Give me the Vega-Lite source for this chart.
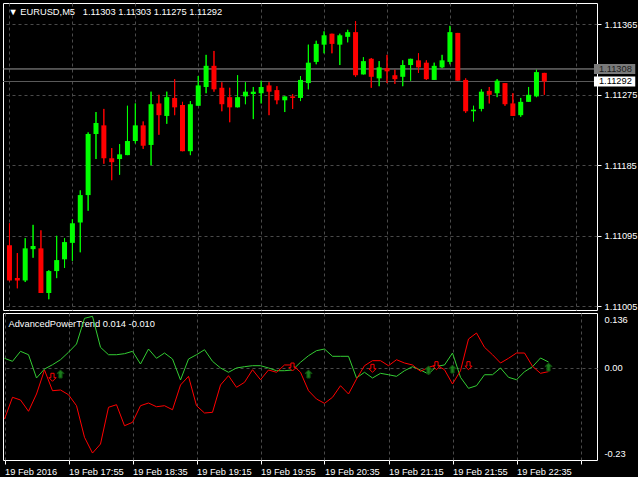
{
 "$schema": "https://vega.github.io/schema/vega-lite/v6.json",
 "background": "#000000",
 "padding": {"left": 2, "top": 2, "right": 0, "bottom": 0},
 "bounds": "flush",
 "spacing": 3,
 "config": {
  "view": {"stroke": "#ffffff", "strokeWidth": 1},
  "font": "Liberation Sans",
  "axis": {"labelColor": "#ffffff", "labelFont": "Liberation Sans", "labelFontSize": 9.3, "gridColor": "#4a4a4a", "gridDash": [3, 3], "gridWidth": 1, "tickColor": "#ffffff", "domain": false,
   "titleColor": "#ffffff", "titleFont": "Liberation Sans", "titleFontSize": 9.3, "titleFontWeight": "normal", "titleAngle": 0, "titleAlign": "left", "titleBaseline": "alphabetic"}
 },
 "datasets": {
  "bars": [
   {"t": "2016-02-19 17:15", "o": 1.11083, "h": 1.11111, "l": 1.11037, "c": 1.11038, "g": 0.0232, "r": -0.1280},
   {"t": "2016-02-19 17:20", "o": 1.11041, "h": 1.11073, "l": 1.11028, "c": 1.11038, "g": 0.0157, "r": -0.0739},
   {"t": "2016-02-19 17:25", "o": 1.11038, "h": 1.11092, "l": 1.11036, "c": 1.11079, "g": 0.0406, "r": -0.0806},
   {"t": "2016-02-19 17:30", "o": 1.11078, "h": 1.11109, "l": 1.11067, "c": 1.11082, "g": 0.0321, "r": -0.1087},
   {"t": "2016-02-19 17:35", "o": 1.11079, "h": 1.11102, "l": 1.11022, "c": 1.11022, "g": -0.0258, "r": -0.0657},
   {"t": "2016-02-19 17:40", "o": 1.11022, "h": 1.11051, "l": 1.11014, "c": 1.11050, "g": -0.0035, "r": -0.0059},
   {"t": "2016-02-19 17:45", "o": 1.11050, "h": 1.11095, "l": 1.11041, "c": 1.11064, "g": 0.0072, "r": -0.0575},
   {"t": "2016-02-19 17:50", "o": 1.11065, "h": 1.11092, "l": 1.11054, "c": 1.11087, "g": 0.0197, "r": -0.0557},
   {"t": "2016-02-19 17:55", "o": 1.11086, "h": 1.11116, "l": 1.11063, "c": 1.11111, "g": 0.0382, "r": -0.0675},
   {"t": "2016-02-19 18:00", "o": 1.11112, "h": 1.11153, "l": 1.11074, "c": 1.11147, "g": 0.0588, "r": -0.0948},
   {"t": "2016-02-19 18:05", "o": 1.11147, "h": 1.11227, "l": 1.11127, "c": 1.11225, "g": 0.1228, "r": -0.1735},
   {"t": "2016-02-19 18:10", "o": 1.11225, "h": 1.11253, "l": 1.11193, "c": 1.11239, "g": 0.1277, "r": -0.2127},
   {"t": "2016-02-19 18:15", "o": 1.11236, "h": 1.11257, "l": 1.11187, "c": 1.11194, "g": 0.0506, "r": -0.1902},
   {"t": "2016-02-19 18:20", "o": 1.11194, "h": 1.11207, "l": 1.11166, "c": 1.11189, "g": 0.0321, "r": -0.0988},
   {"t": "2016-02-19 18:25", "o": 1.11193, "h": 1.11212, "l": 1.11173, "c": 1.11199, "g": 0.0321, "r": -0.0923},
   {"t": "2016-02-19 18:30", "o": 1.11198, "h": 1.11261, "l": 1.11198, "c": 1.11216, "g": 0.0347, "r": -0.1447},
   {"t": "2016-02-19 18:35", "o": 1.11216, "h": 1.11264, "l": 1.11213, "c": 1.11236, "g": 0.0406, "r": -0.1362},
   {"t": "2016-02-19 18:40", "o": 1.11236, "h": 1.11241, "l": 1.11206, "c": 1.11210, "g": 0.0090, "r": -0.0948},
   {"t": "2016-02-19 18:45", "o": 1.11211, "h": 1.11279, "l": 1.11185, "c": 1.11263, "g": 0.0463, "r": -0.0881},
   {"t": "2016-02-19 18:50", "o": 1.11264, "h": 1.11275, "l": 1.11224, "c": 1.11249, "g": 0.0232, "r": -0.0974},
   {"t": "2016-02-19 18:55", "o": 1.11248, "h": 1.11279, "l": 1.11238, "c": 1.11272, "g": 0.0364, "r": -0.0948},
   {"t": "2016-02-19 19:00", "o": 1.11271, "h": 1.11295, "l": 1.11249, "c": 1.11259, "g": 0.0214, "r": -0.1049},
   {"t": "2016-02-19 19:05", "o": 1.11262, "h": 1.11266, "l": 1.11203, "c": 1.11203, "g": -0.0308, "r": -0.0433},
   {"t": "2016-02-19 19:10", "o": 1.11203, "h": 1.11267, "l": 1.11198, "c": 1.11263, "g": 0.0214, "r": -0.0217},
   {"t": "2016-02-19 19:15", "o": 1.11261, "h": 1.11299, "l": 1.11261, "c": 1.11287, "g": 0.0321, "r": -0.0948},
   {"t": "2016-02-19 19:20", "o": 1.11285, "h": 1.11326, "l": 1.11277, "c": 1.11312, "g": 0.0446, "r": -0.1130},
   {"t": "2016-02-19 19:25", "o": 1.11312, "h": 1.11331, "l": 1.11279, "c": 1.11282, "g": 0.0157, "r": -0.1113},
   {"t": "2016-02-19 19:30", "o": 1.11284, "h": 1.11291, "l": 1.11254, "c": 1.11263, "g": -0.0009, "r": -0.0433},
   {"t": "2016-02-19 19:35", "o": 1.11272, "h": 1.11284, "l": 1.11240, "c": 1.11259, "g": -0.0116, "r": -0.0201},
   {"t": "2016-02-19 19:40", "o": 1.11259, "h": 1.11300, "l": 1.11259, "c": 1.11272, "g": -0.0009, "r": -0.0490},
   {"t": "2016-02-19 19:45", "o": 1.11273, "h": 1.11291, "l": 1.11263, "c": 1.11279, "g": 0.0023, "r": -0.0366},
   {"t": "2016-02-19 19:50", "o": 1.11276, "h": 1.11285, "l": 1.11244, "c": 1.11279, "g": 0.0048, "r": -0.0052},
   {"t": "2016-02-19 19:55", "o": 1.11277, "h": 1.11293, "l": 1.11264, "c": 1.11285, "g": 0.0048, "r": -0.0301},
   {"t": "2016-02-19 20:00", "o": 1.11287, "h": 1.11291, "l": 1.11249, "c": 1.11279, "g": -0.0009, "r": -0.0059},
   {"t": "2016-02-19 20:05", "o": 1.11281, "h": 1.11286, "l": 1.11263, "c": 1.11268, "g": -0.0077, "r": -0.0116},
   {"t": "2016-02-19 20:10", "o": 1.11268, "h": 1.11273, "l": 1.11253, "c": 1.11273, "g": -0.0077, "r": 0.0066},
   {"t": "2016-02-19 20:15", "o": 1.11273, "h": 1.11276, "l": 1.11257, "c": 1.11271, "g": -0.0059, "r": 0.0066},
   {"t": "2016-02-19 20:20", "o": 1.11271, "h": 1.11299, "l": 1.11267, "c": 1.11294, "g": 0.0133, "r": -0.0116},
   {"t": "2016-02-19 20:25", "o": 1.11290, "h": 1.11339, "l": 1.11282, "c": 1.11316, "g": 0.0297, "r": -0.0575},
   {"t": "2016-02-19 20:30", "o": 1.11317, "h": 1.11344, "l": 1.11314, "c": 1.11340, "g": 0.0422, "r": -0.0782},
   {"t": "2016-02-19 20:35", "o": 1.11339, "h": 1.11356, "l": 1.11328, "c": 1.11351, "g": 0.0463, "r": -0.0889},
   {"t": "2016-02-19 20:40", "o": 1.11353, "h": 1.11353, "l": 1.11328, "c": 1.11340, "g": 0.0282, "r": -0.0739},
   {"t": "2016-02-19 20:45", "o": 1.11339, "h": 1.11353, "l": 1.11313, "c": 1.11351, "g": 0.0282, "r": -0.0450},
   {"t": "2016-02-19 20:50", "o": 1.11349, "h": 1.11358, "l": 1.11342, "c": 1.11355, "g": 0.0282, "r": -0.0657},
   {"t": "2016-02-19 20:55", "o": 1.11355, "h": 1.11369, "l": 1.11298, "c": 1.11300, "g": -0.0258, "r": -0.0284},
   {"t": "2016-02-19 21:00", "o": 1.11301, "h": 1.11323, "l": 1.11301, "c": 1.11318, "g": -0.0116, "r": 0.0048},
   {"t": "2016-02-19 21:05", "o": 1.11321, "h": 1.11322, "l": 1.11284, "c": 1.11298, "g": -0.0258, "r": 0.0173},
   {"t": "2016-02-19 21:10", "o": 1.11296, "h": 1.11318, "l": 1.11286, "c": 1.11310, "g": -0.0142, "r": 0.0173},
   {"t": "2016-02-19 21:15", "o": 1.11309, "h": 1.11326, "l": 1.11290, "c": 1.11305, "g": -0.0177, "r": 0.0048},
   {"t": "2016-02-19 21:20", "o": 1.11300, "h": 1.11307, "l": 1.11289, "c": 1.11295, "g": -0.0217, "r": 0.0197},
   {"t": "2016-02-19 21:25", "o": 1.11298, "h": 1.11319, "l": 1.11286, "c": 1.11313, "g": -0.0077, "r": 0.0115},
   {"t": "2016-02-19 21:30", "o": 1.11313, "h": 1.11321, "l": 1.11293, "c": 1.11321, "g": 0.0023, "r": 0.0066},
   {"t": "2016-02-19 21:35", "o": 1.11319, "h": 1.11328, "l": 1.11303, "c": 1.11310, "g": -0.0059, "r": -0.0092},
   {"t": "2016-02-19 21:40", "o": 1.11316, "h": 1.11319, "l": 1.11294, "c": 1.11295, "g": -0.0159, "r": 0.0008},
   {"t": "2016-02-19 21:45", "o": 1.11294, "h": 1.11316, "l": 1.11294, "c": 1.11312, "g": 0.0032, "r": 0.0066},
   {"t": "2016-02-19 21:50", "o": 1.11310, "h": 1.11326, "l": 1.11309, "c": 1.11319, "g": 0.0066, "r": -0.0052},
   {"t": "2016-02-19 21:55", "o": 1.11317, "h": 1.11363, "l": 1.11314, "c": 1.11355, "g": 0.0364, "r": -0.0408},
   {"t": "2016-02-19 22:00", "o": 1.11354, "h": 1.11354, "l": 1.11293, "c": 1.11293, "g": -0.0241, "r": -0.0077},
   {"t": "2016-02-19 22:05", "o": 1.11294, "h": 1.11296, "l": 1.11252, "c": 1.11254, "g": -0.0515, "r": 0.0713},
   {"t": "2016-02-19 22:10", "o": 1.11254, "h": 1.11261, "l": 1.11241, "c": 1.11256, "g": -0.0450, "r": 0.0862},
   {"t": "2016-02-19 22:15", "o": 1.11257, "h": 1.11282, "l": 1.11254, "c": 1.11279, "g": -0.0177, "r": 0.0506},
   {"t": "2016-02-19 22:20", "o": 1.11280, "h": 1.11285, "l": 1.11264, "c": 1.11275, "g": -0.0177, "r": 0.0321},
   {"t": "2016-02-19 22:25", "o": 1.11277, "h": 1.11295, "l": 1.11272, "c": 1.11293, "g": -0.0009, "r": 0.0115},
   {"t": "2016-02-19 22:30", "o": 1.11290, "h": 1.11290, "l": 1.11261, "c": 1.11263, "g": -0.0241, "r": 0.0232},
   {"t": "2016-02-19 22:35", "o": 1.11264, "h": 1.11277, "l": 1.11248, "c": 1.11248, "g": -0.0301, "r": 0.0364},
   {"t": "2016-02-19 22:40", "o": 1.11249, "h": 1.11271, "l": 1.11247, "c": 1.11266, "g": -0.0102, "r": 0.0364},
   {"t": "2016-02-19 22:45", "o": 1.11266, "h": 1.11285, "l": 1.11266, "c": 1.11275, "g": 0.0023, "r": 0.0032},
   {"t": "2016-02-19 22:50", "o": 1.11273, "h": 1.11307, "l": 1.11272, "c": 1.11304, "g": 0.0240, "r": -0.0142},
   {"t": "2016-02-19 22:55", "o": 1.11303, "h": 1.11303, "l": 1.11275, "c": 1.11292, "g": 0.014, "r": -0.010}
  ],
  "quotes": [
   {"p": 1.11308, "kind": "ask"},
   {"p": 1.11292, "kind": "bid"}
  ],
  "signals": [
   {"t": "2016-02-19 17:50", "v": -0.0159, "dir": "up"},
   {"t": "2016-02-19 20:25", "v": -0.0159, "dir": "up"},
   {"t": "2016-02-19 21:40", "v": -0.0059, "dir": "up"},
   {"t": "2016-02-19 21:55", "v": -0.0035, "dir": "up"},
   {"t": "2016-02-19 22:55", "v": 0.0015, "dir": "up"},
   {"t": "2016-02-19 17:45", "v": -0.0241, "dir": "down"},
   {"t": "2016-02-19 20:15", "v": 0.0015, "dir": "down"},
   {"t": "2016-02-19 21:05", "v": -0.0017, "dir": "down"},
   {"t": "2016-02-19 21:45", "v": 0.0048, "dir": "down"},
   {"t": "2016-02-19 22:05", "v": 0.0048, "dir": "down"}
  ]
 },
 "vconcat": [
  {
   "width": 594,
   "height": 307,
   "layer": [
    {
     "data": {"name": "bars"},
     "mark": {"type": "rule", "strokeWidth": 1},
     "encoding": {
      "x": {"field": "t", "type": "temporal",
       "scale": {"domain": [{"year": 2016, "month": 2, "date": 19, "hours": 17, "minutes": 14, "seconds": 3, "milliseconds": 750}, {"year": 2016, "month": 2, "date": 19, "hours": 23, "minutes": 25, "seconds": 18, "milliseconds": 750}], "nice": false},
       "axis": {"labels": false, "ticks": false, "domain": false, "grid": true, "title": null, "minExtent": 0, "maxExtent": 0, "offset": 0,
        "values": [
         {"year": 2016, "month": 2, "date": 19, "hours": 17, "minutes": 15}, {"year": 2016, "month": 2, "date": 19, "hours": 17, "minutes": 35}, {"year": 2016, "month": 2, "date": 19, "hours": 17, "minutes": 55},
         {"year": 2016, "month": 2, "date": 19, "hours": 18, "minutes": 15}, {"year": 2016, "month": 2, "date": 19, "hours": 18, "minutes": 35}, {"year": 2016, "month": 2, "date": 19, "hours": 18, "minutes": 55},
         {"year": 2016, "month": 2, "date": 19, "hours": 19, "minutes": 15}, {"year": 2016, "month": 2, "date": 19, "hours": 19, "minutes": 35}, {"year": 2016, "month": 2, "date": 19, "hours": 19, "minutes": 55},
         {"year": 2016, "month": 2, "date": 19, "hours": 20, "minutes": 15}, {"year": 2016, "month": 2, "date": 19, "hours": 20, "minutes": 35}, {"year": 2016, "month": 2, "date": 19, "hours": 20, "minutes": 55},
         {"year": 2016, "month": 2, "date": 19, "hours": 21, "minutes": 15}, {"year": 2016, "month": 2, "date": 19, "hours": 21, "minutes": 35}, {"year": 2016, "month": 2, "date": 19, "hours": 21, "minutes": 55},
         {"year": 2016, "month": 2, "date": 19, "hours": 22, "minutes": 15}, {"year": 2016, "month": 2, "date": 19, "hours": 22, "minutes": 35}, {"year": 2016, "month": 2, "date": 19, "hours": 22, "minutes": 55},
         {"year": 2016, "month": 2, "date": 19, "hours": 23, "minutes": 15}
        ]}
      },
      "y": {"field": "l", "type": "quantitative",
       "scale": {"domain": [1.110003, 1.113922], "nice": false, "zero": false},
       "axis": {"orient": "right", "values": [1.11005, 1.1105, 1.11095, 1.1114, 1.11185, 1.1123, 1.11275, 1.1132, 1.11365], "format": ".5f", "grid": true, "ticks": true, "tickSize": 4, "labelPadding": 3,
        "title": "▼ EURUSD,M5\u00a0\u00a0 1.11303 1.11303 1.11275 1.11292", "titleX": -589, "titleY": 11}},
      "y2": {"field": "h"},
      "color": {"condition": {"test": "datum.c >= datum.o", "value": "#00ff00"}, "value": "#ff0000"}
     }
    },
    {
     "data": {"name": "quotes"},
     "mark": {"type": "rule", "strokeWidth": 1},
     "encoding": {
      "y": {"field": "p", "type": "quantitative"},
      "color": {"condition": {"test": "datum.kind == 'ask'", "value": "#9a9a9a"}, "value": "#5c5c5c"}
     }
    },
    {
     "data": {"name": "bars"},
     "mark": {"type": "rule", "strokeWidth": 1},
     "encoding": {
      "x": {"field": "t", "type": "temporal"},
      "y": {"field": "l", "type": "quantitative"},
      "y2": {"field": "h"},
      "color": {"condition": {"test": "datum.c >= datum.o", "value": "#00ff00"}, "value": "#ff0000"}
     }
    },
    {
     "data": {"name": "bars"},
     "mark": {"type": "bar", "size": 5},
     "encoding": {
      "x": {"field": "t", "type": "temporal"},
      "y": {"field": "o", "type": "quantitative"},
      "y2": {"field": "c"},
      "color": {"condition": {"test": "datum.c >= datum.o", "value": "#00ff00"}, "value": "#ff0000"}
     }
    },
    {
     "data": {"name": "quotes"},
     "mark": {"type": "rect", "yOffset": -5, "y2Offset": 5},
     "encoding": {
      "x": {"datum": {"year": 2016, "month": 2, "date": 19, "hours": 23, "minutes": 26, "seconds": 34}, "type": "temporal"},
      "x2": {"datum": {"year": 2016, "month": 2, "date": 19, "hours": 23, "minutes": 52, "seconds": 48}},
      "y": {"field": "p", "type": "quantitative"},
      "y2": {"field": "p"},
      "color": {"condition": {"test": "datum.kind == 'ask'", "value": "#7a7a7a"}, "value": "#ffffff"}
     }
    },
    {
     "data": {"name": "quotes"},
     "mark": {"type": "text", "align": "left", "baseline": "middle", "font": "Liberation Sans", "fontSize": 9.3},
     "encoding": {
      "x": {"datum": {"year": 2016, "month": 2, "date": 19, "hours": 23, "minutes": 29, "seconds": 42}, "type": "temporal"},
      "y": {"field": "p", "type": "quantitative"},
      "text": {"field": "p", "type": "quantitative", "format": ".5f"},
      "color": {"condition": {"test": "datum.kind == 'ask'", "value": "#1a1a1a"}, "value": "#000000"}
     }
    }
   ]
  },
  {
   "width": 594,
   "height": 147,
   "data": {"name": "bars"},
   "layer": [
    {
     "mark": {"type": "line", "color": "#33cc33", "strokeWidth": 1},
     "encoding": {
      "x": {"field": "t", "type": "temporal",
       "scale": {"domain": [{"year": 2016, "month": 2, "date": 19, "hours": 17, "minutes": 14, "seconds": 3, "milliseconds": 750}, {"year": 2016, "month": 2, "date": 19, "hours": 23, "minutes": 25, "seconds": 18, "milliseconds": 750}], "nice": false},
       "axis": {"orient": "bottom", "grid": true, "ticks": true, "tickSize": 4, "domain": false, "labelAlign": "left", "labelPadding": 3, "labelFlush": false, "labelOverlap": false, "title": null,
        "labelExpr": "((hours(datum.value) * 60 + minutes(datum.value) - 1035) % 40 == 0 && (hours(datum.value) * 60 + minutes(datum.value)) <= 1355) ? ((hours(datum.value) * 60 + minutes(datum.value)) == 1035 ? '19 Feb 2016' : timeFormat(datum.value, '%d %b %H:%M')) : ''",
        "values": [
         {"year": 2016, "month": 2, "date": 19, "hours": 17, "minutes": 15}, {"year": 2016, "month": 2, "date": 19, "hours": 17, "minutes": 35}, {"year": 2016, "month": 2, "date": 19, "hours": 17, "minutes": 55},
         {"year": 2016, "month": 2, "date": 19, "hours": 18, "minutes": 15}, {"year": 2016, "month": 2, "date": 19, "hours": 18, "minutes": 35}, {"year": 2016, "month": 2, "date": 19, "hours": 18, "minutes": 55},
         {"year": 2016, "month": 2, "date": 19, "hours": 19, "minutes": 15}, {"year": 2016, "month": 2, "date": 19, "hours": 19, "minutes": 35}, {"year": 2016, "month": 2, "date": 19, "hours": 19, "minutes": 55},
         {"year": 2016, "month": 2, "date": 19, "hours": 20, "minutes": 15}, {"year": 2016, "month": 2, "date": 19, "hours": 20, "minutes": 35}, {"year": 2016, "month": 2, "date": 19, "hours": 20, "minutes": 55},
         {"year": 2016, "month": 2, "date": 19, "hours": 21, "minutes": 15}, {"year": 2016, "month": 2, "date": 19, "hours": 21, "minutes": 35}, {"year": 2016, "month": 2, "date": 19, "hours": 21, "minutes": 55},
         {"year": 2016, "month": 2, "date": 19, "hours": 22, "minutes": 15}, {"year": 2016, "month": 2, "date": 19, "hours": 22, "minutes": 35}, {"year": 2016, "month": 2, "date": 19, "hours": 22, "minutes": 55},
         {"year": 2016, "month": 2, "date": 19, "hours": 23, "minutes": 15}
        ]}
      },
      "y": {"field": "g", "type": "quantitative",
       "scale": {"domain": [-0.23, 0.136], "nice": false, "zero": false},
       "axis": {"orient": "right", "values": [0.136, 0, -0.23], "grid": true, "ticks": false, "labelPadding": 7, "labelFlush": true, "labelFlushOffset": -2,
        "gridColor": {"condition": {"test": "datum.value == 0", "value": "#4a4a4a"}, "value": "transparent"},
        "labelExpr": "datum.value == 0 ? '0.00' : (datum.value > 0 ? '0.136' : '-0.23')",
        "title": "AdvancedPowerTrend 0.014 -0.010", "titleX": -589, "titleY": 13}}
     }
    },
    {
     "mark": {"type": "line", "color": "#ff0000", "strokeWidth": 1},
     "encoding": {
      "x": {"field": "t", "type": "temporal"},
      "y": {"field": "r", "type": "quantitative"}
     }
    },
    {
     "data": {"name": "signals"},
     "transform": [{"filter": "datum.dir == 'up'"}],
     "mark": {"type": "point", "shape": "M0,-1L0.9,-0.1L0.4,-0.1L0.4,1L-0.4,1L-0.4,-0.1L-0.9,-0.1Z", "size": 64, "filled": true, "fill": "#1c7d1c", "stroke": "#0f4f0f", "strokeWidth": 1, "opacity": 1},
     "encoding": {
      "x": {"field": "t", "type": "temporal"},
      "y": {"field": "v", "type": "quantitative"}
     }
    },
    {
     "data": {"name": "signals"},
     "transform": [{"filter": "datum.dir == 'down'"}],
     "mark": {"type": "point", "shape": "M0,1L0.9,0.1L0.4,0.1L0.4,-1L-0.4,-1L-0.4,0.1L-0.9,0.1Z", "size": 64, "filled": true, "fill": "#000000", "stroke": "#ff0000", "strokeWidth": 1, "opacity": 1},
     "encoding": {
      "x": {"field": "t", "type": "temporal"},
      "y": {"field": "v", "type": "quantitative"}
     }
    }
   ]
  }
 ]
}
